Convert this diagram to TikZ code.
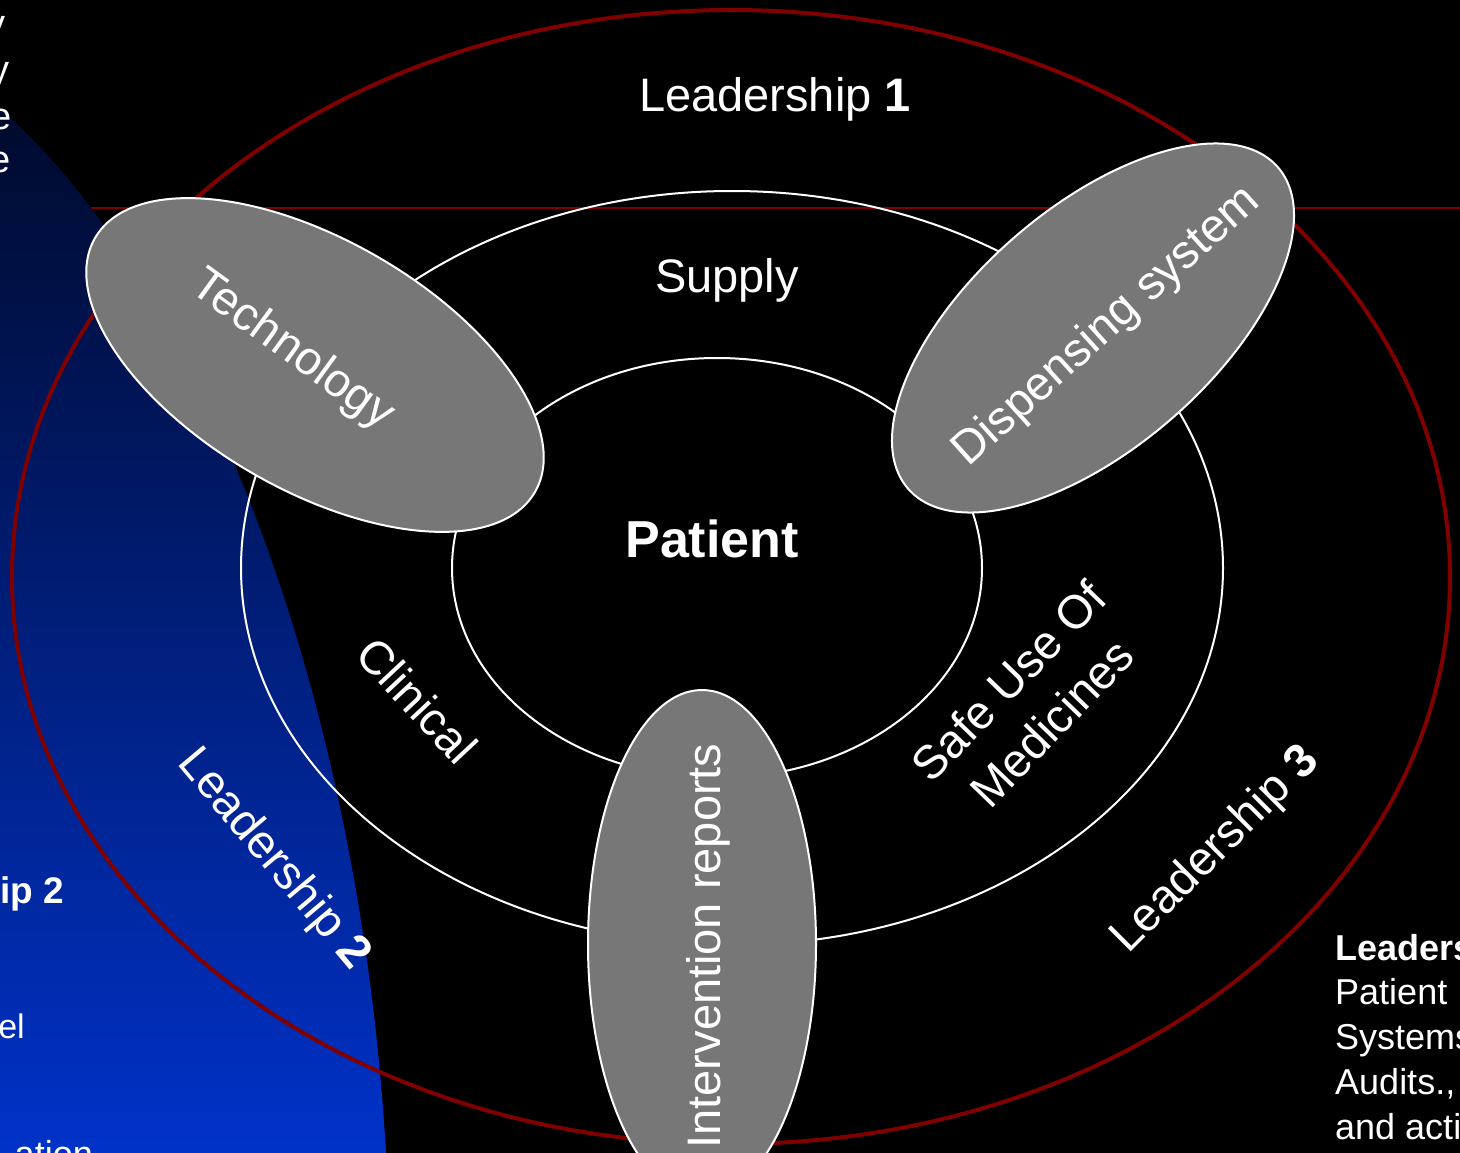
\documentclass[tikz,border=0pt]{standalone}
\usepackage{fontspec}
\setmainfont{Liberation Sans}
\usetikzlibrary{shapes.geometric}
\definecolor{ringred}{HTML}{800000}
\definecolor{pillgray}{HTML}{777777}
\definecolor{navytop}{HTML}{000A2C}
\definecolor{navymid}{HTML}{001D85}
\definecolor{navybot}{HTML}{0032C8}
\tikzset{
  ring/.style={ellipse, draw=white, line width=2, inner sep=0},
  redring/.style={ellipse, draw=ringred, line width=4, inner sep=0},
  pill/.style={ellipse, fill=pillgray, draw=white, line width=2, inner sep=0},
  lbl/.style={text=white, inner sep=0, font=\fontsize{47}{56}\selectfont, align=center},
  sidetxt/.style={text=white, inner sep=0, font=\fontsize{36}{45}\selectfont, anchor=base west},
  edgetxt/.style={text=white, inner sep=0, font=\fontsize{34}{45}\selectfont, anchor=base east}
}
\begin{document}
\begin{tikzpicture}[x=1pt,y=-1pt]
\useasboundingbox (0,0) rectangle (1460,1153);
\fill[black] (0,0) rectangle (1460,1153);
% horizontal red rule
\coordinate (ruleL) at (0,208);
\coordinate (ruleR) at (1460,208);
\draw[ringred, line width=2] (ruleL) -- (ruleR);
% blue gradient region
\shade[top color=navytop, middle color=navymid, bottom color=navybot]
  (0,108) .. controls (205,290) and (360,700) .. (386,1153) -- (0,1153) -- cycle;
% left text fragments
\node[edgetxt, font=\fontsize{38}{45}\selectfont] (l1) at (6,37) {y};
\node[edgetxt, font=\fontsize{38}{45}\selectfont] (l2) at (10,83) {y};
\node[edgetxt, font=\fontsize{38}{45}\selectfont] (l3) at (12,130) {e};
\node[edgetxt, font=\fontsize{38}{45}\selectfont] (l4) at (11,173) {e};
\node[edgetxt, font=\bfseries\fontsize{37}{45}\selectfont] (b1) at (64,903) {ip 2};
\node[edgetxt] (b2) at (25,1038) {el};
\node[edgetxt, font=\fontsize{36}{45}\selectfont] (b3) at (93,1166) {ation};
% rings
\node[redring, minimum width=1438, minimum height=1134] (outer) at (731,577) {};
\node[ring, minimum width=982, minimum height=754] (middle) at (732,568) {};
\node[ring, minimum width=530, minimum height=420] (inner) at (717,568) {};
% ring labels
\node[lbl] (lead1) at (775,99) {Leadership \textbf{1}};
\node[lbl] (supply) at (727,280) {Supply};
\node[lbl, font=\bfseries\fontsize{52}{60}\selectfont] (patient) at (712,539) {Patient};
\node[lbl, rotate=-47] (clinical) at (417,700) {Clinical};
\node[lbl, rotate=46, font=\fontsize{47}{60}\selectfont] (safe) at (1030,702) {Safe Use Of\\Medicines};
\node[lbl, rotate=45] (lead3) at (1216,850) {Leadership \textbf{3}};
\node[lbl, rotate=-50] (lead2) at (273,860) {Leadership \textbf{2}};
% grey pills
\node[pill, minimum width=508, minimum height=250, rotate=-30] (techpill) at (315,365) {};
\node[pill, minimum width=490, minimum height=240, rotate=41] (disppill) at (1093,328) {};
\node[pill, minimum width=228, minimum height=508] (intpill) at (702,944) {};
\node[lbl, rotate=-36] (tech) at (292,351) {Technology};
\node[lbl, rotate=42] (disp) at (1107,327) {Dispensing system};
\node[lbl, rotate=90] (interv) at (708,946) {Intervention reports};
% right text block
\node[sidetxt, font=\bfseries\fontsize{36}{45}\selectfont] (r1) at (1335,960) {Leaders};
\node[sidetxt] (r2) at (1335,1004) {Patient};
\node[sidetxt] (r3) at (1335,1049) {Systems};
\node[sidetxt] (r4) at (1335,1094) {Audits.,};
\node[sidetxt] (r5) at (1335,1139) {and acti};
\end{tikzpicture}
\end{document}
